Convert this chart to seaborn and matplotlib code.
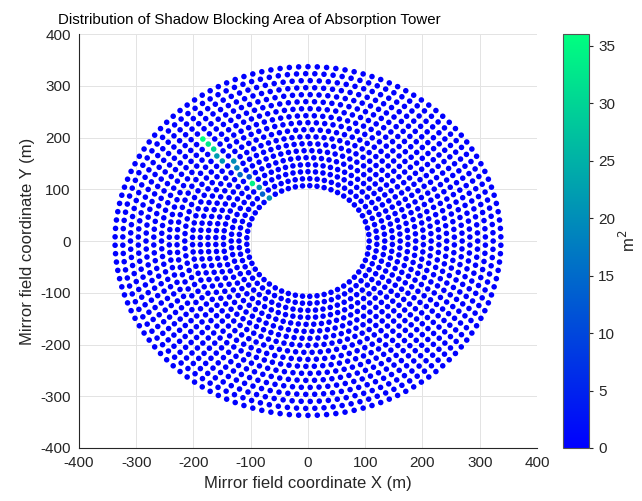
import numpy as np
import pandas as pd
import matplotlib
matplotlib.use("Agg")
import matplotlib.pyplot as plt
from matplotlib.colors import Normalize
from matplotlib.cm import ScalarMappable
import seaborn as sns

# Heliostat rings: radius (m), mirrors per ring, start offset (fraction of one angular step)
ring_radius = [107.0, 120.5, 134.1, 147.6, 161.1, 174.7, 188.2, 201.7, 215.2,
               228.8, 242.3, 255.8, 269.4, 282.9, 296.4, 310.0, 323.5, 337.0]
ring_count = [53, 59, 64, 70, 75, 80, 85, 90, 94,
              98, 103, 107, 111, 115, 119, 123, 127, 130]
ring_offset = [0.0, 0.5, 0.0, 0.5, 0.0, 0.5, 0.0, 0.5, 0.0,
               0.5, 0.0, 0.5, 0.0, 0.5, 0.0, 0.5, 0.0, 0.5]

# Mirrors with a non-zero shadow blocking area: ring index, azimuth (deg), area (m^2)
shaded_ring = [0, 1, 2, 3, 4, 5, 6, 7, 8, 9, 10, 11, 12]
shaded_azimuth = [129.9, 133.8, 130.2, 131.2, 130.6, 130.6, 131.5,
                  131.4, 132.8, 132.5, 131.9, 132.0, 131.7]
shaded_area = [20.5, 13.5, 20.0, 34.0, 11.0, 14.0, 18.0,
               20.0, 21.0, 22.0, 30.0, 32.5, 36.0]

cbar_ticks = [0, 5, 10, 15, 20, 25, 30, 35]
axis_ticks = [-400, -300, -200, -100, 0, 100, 200, 300, 400]

# Build the mirror table ring by ring
rows = []
for k, (r, n, off) in enumerate(zip(ring_radius, ring_count, ring_offset)):
    theta = 2 * np.pi * (np.arange(n) + off) / n
    for t in theta:
        rows.append((k, t, r * np.cos(t), r * np.sin(t), 0.0))
field = pd.DataFrame(rows, columns=["ring", "theta", "x", "y", "area"])

for k, az, a in zip(shaded_ring, shaded_azimuth, shaded_area):
    sub = field[field["ring"] == k]
    d = np.abs(np.angle(np.exp(1j * (sub["theta"].to_numpy() - np.deg2rad(az)))))
    field.loc[sub.index[int(np.argmin(d))], "area"] = a

field = field.sort_values("area", kind="stable")
vmax = 36.0

sns.set_style("white")
plt.rcParams["font.family"] = ["Liberation Sans", "DejaVu Sans"]
plt.rcParams["axes.unicode_minus"] = False

fig = plt.figure(figsize=(6.42, 5.01), dpi=100)
ax = fig.add_axes([0.123, 0.1058, 0.7134, 0.8262])
cax = fig.add_axes([0.877, 0.1058, 0.0405, 0.8262])

sns.scatterplot(data=field, x="x", y="y", hue="area", palette="winter",
                hue_norm=(0, vmax), s=16, linewidth=0, legend=False, ax=ax)

ax.set_xlim(-400, 400)
ax.set_ylim(-400, 400)
ax.set_xticks(axis_ticks)
ax.set_yticks(axis_ticks)
ax.grid(True, color="#e3e3e3", linewidth=0.7)
ax.set_axisbelow(True)
for side in ["top", "right"]:
    ax.spines[side].set_visible(False)
for side in ["left", "bottom"]:
    ax.spines[side].set_color("#262626")
    ax.spines[side].set_linewidth(0.8)
ax.tick_params(direction="in", length=4, width=0.8, color="#262626",
               labelcolor="#262626", labelsize=11, pad=6)
ax.set_xlabel("Mirror field coordinate X (m)", fontsize=12, color="#262626", labelpad=4)
ax.set_ylabel("Mirror field coordinate Y (m)", fontsize=12, color="#262626", labelpad=4)
ax.set_title("Distribution of Shadow Blocking Area of Absorption Tower",
             fontsize=10.8, color="#000000", pad=7, x=0.373)

sm = ScalarMappable(norm=Normalize(0, vmax), cmap="winter")
cb = fig.colorbar(sm, cax=cax, ticks=cbar_ticks)
cb.outline.set_edgecolor("#555555")
cb.outline.set_linewidth(0.8)
cax.tick_params(direction="out", length=3, width=0.8, color="#262626",
                labelcolor="#262626", labelsize=11)
cb.set_label("m$^2$", fontsize=12, color="#262626", labelpad=2)

fig.savefig("out.png", dpi=100)
